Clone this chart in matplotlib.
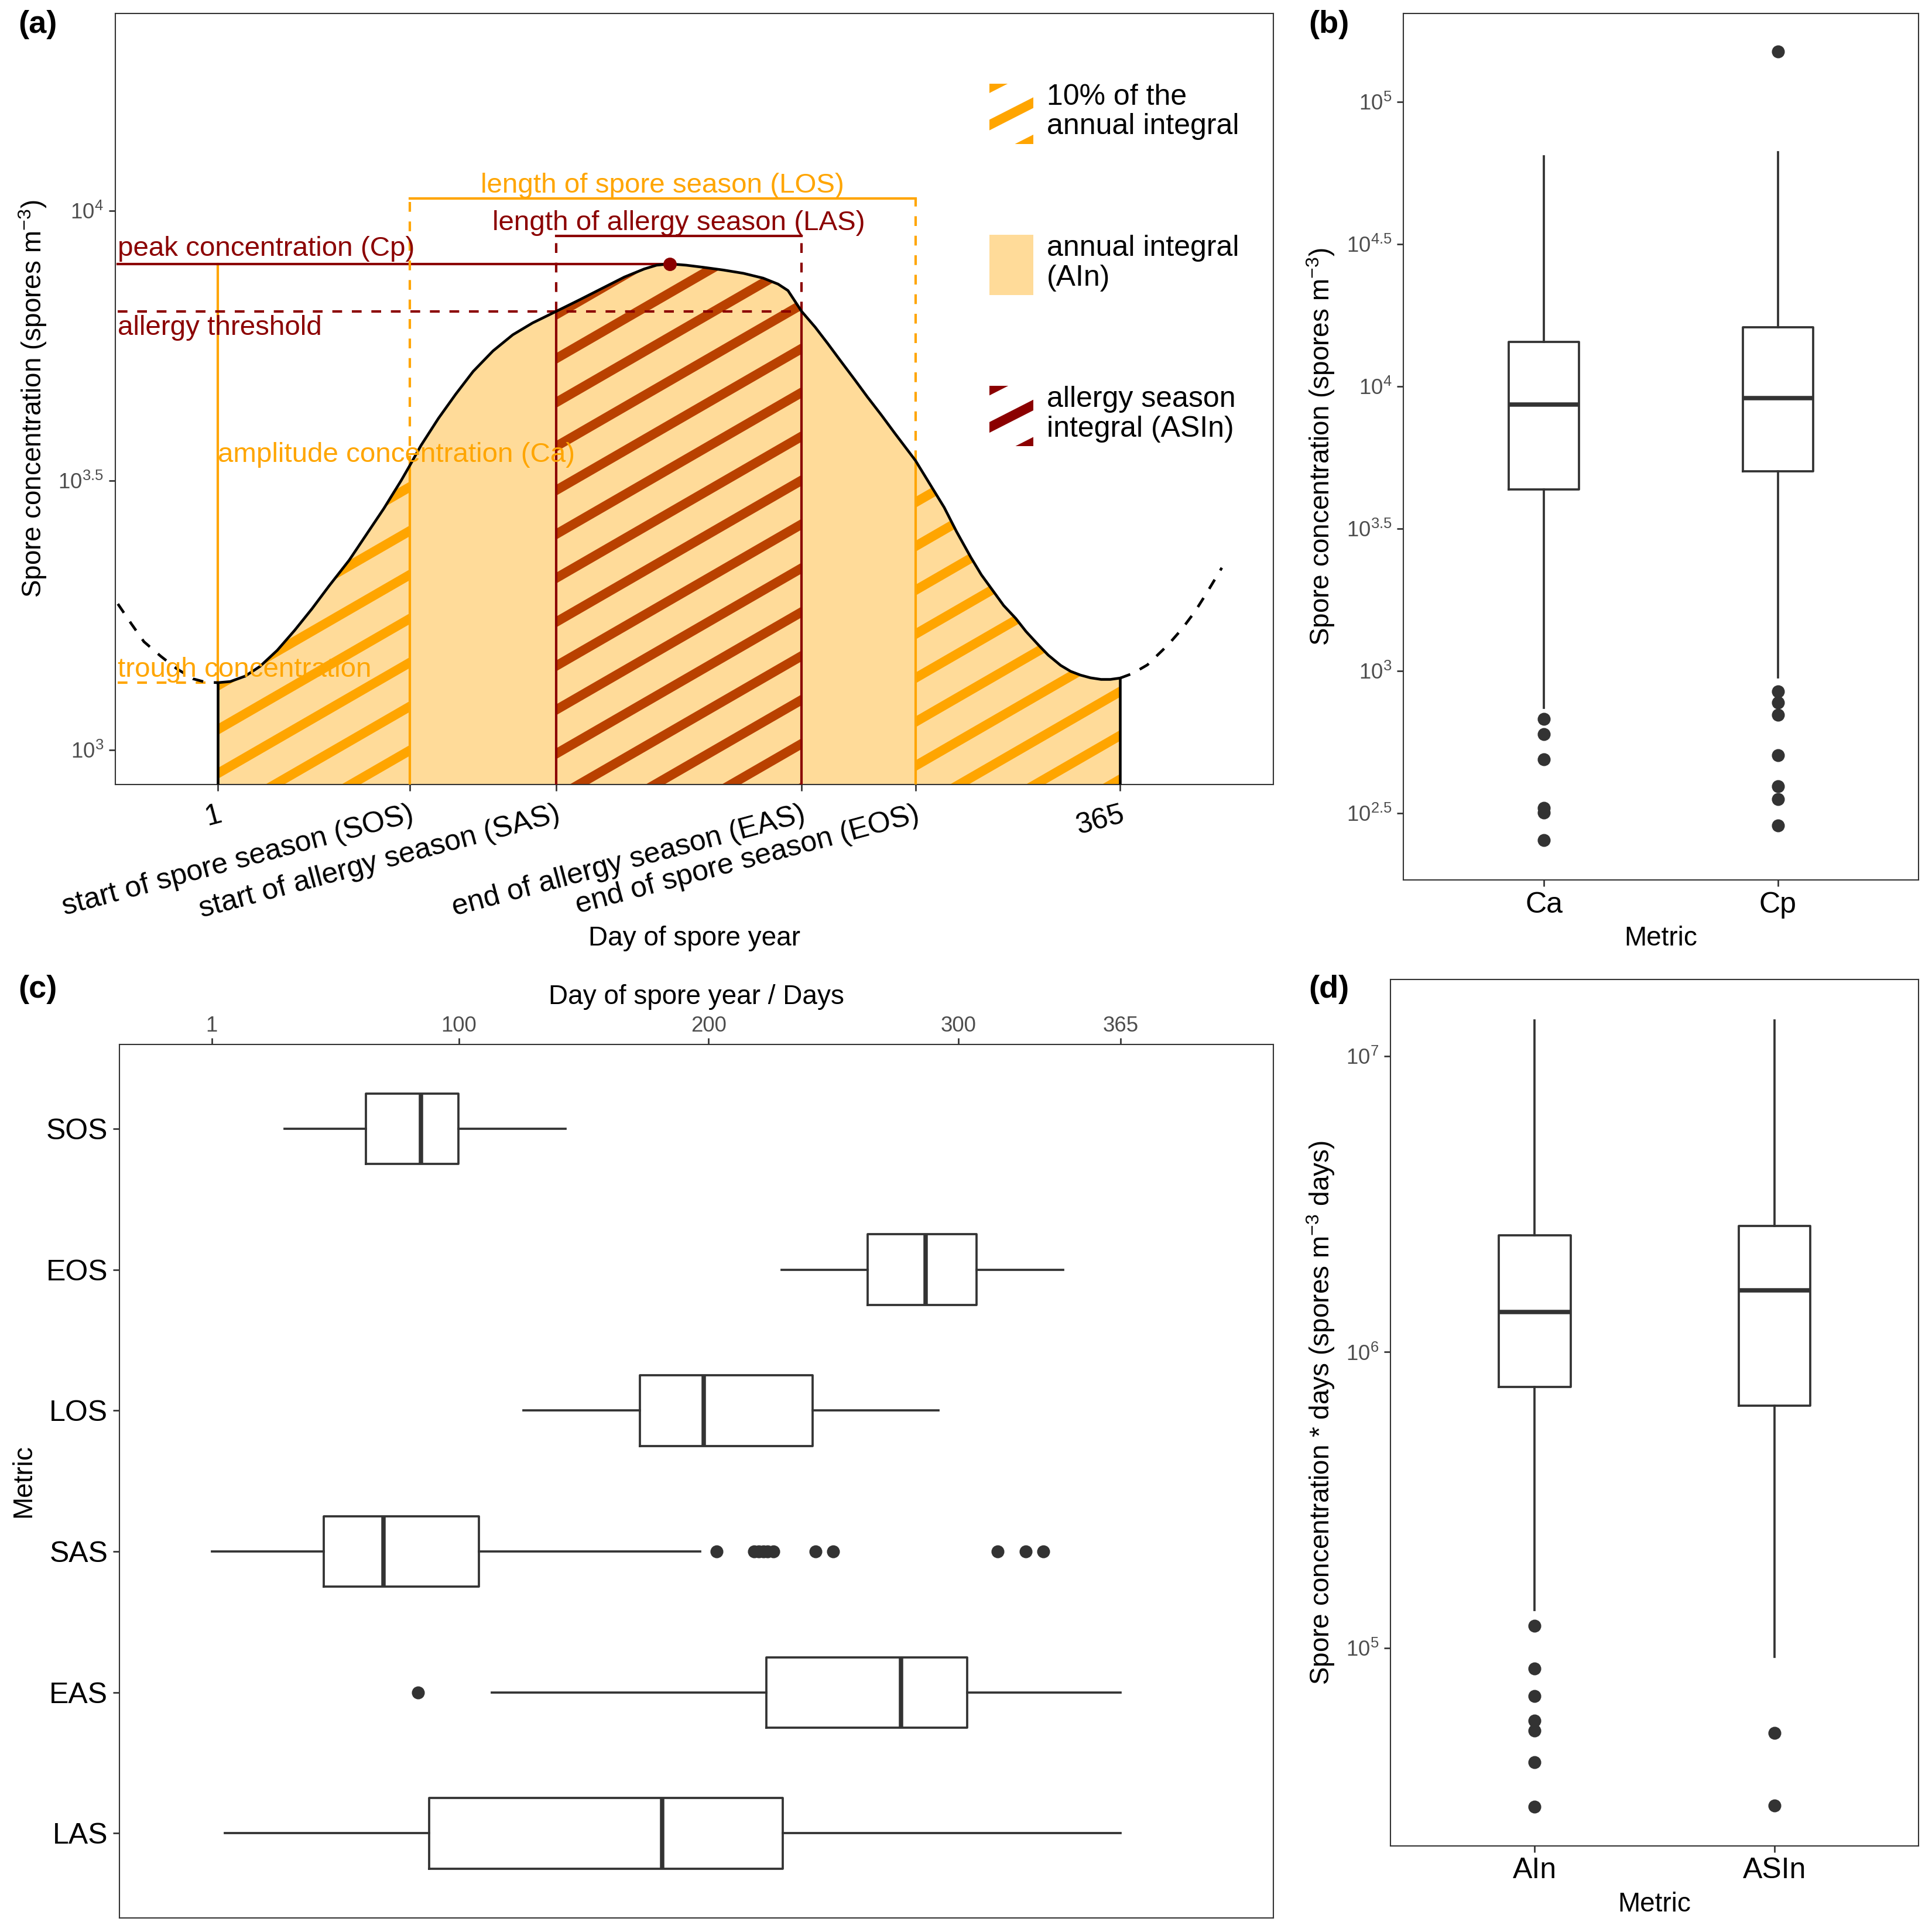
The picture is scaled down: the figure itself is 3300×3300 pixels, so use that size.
import numpy as np
import matplotlib
matplotlib.use("Agg")
import matplotlib.pyplot as plt
from matplotlib.collections import LineCollection
from matplotlib.patches import Patch, Rectangle
from matplotlib.legend_handler import HandlerBase
from matplotlib.ticker import NullLocator

plt.rcParams['font.family'] = ['Liberation Sans', 'DejaVu Sans']
plt.rcParams['mathtext.fontset'] = 'custom'
plt.rcParams['mathtext.rm'] = 'Liberation Sans'
plt.rcParams['mathtext.it'] = 'Liberation Sans:italic'
plt.rcParams['mathtext.bf'] = 'Liberation Sans:bold'

# ---- panel (a): schematic spore curve (day, log10 concentration) ----
curve_day = [-39.3, -34, -28.8, -22, -15.6, -8.9, -4, 1, 6, 12, 18, 25, 32, 39, 46, 54,
             61, 68, 75, 78.5, 83, 90, 97, 104, 112, 120, 128, 137.5, 147, 156, 165,
             173, 178, 183.4, 190, 197, 205, 213, 221, 227, 231, 236.5, 242, 247, 252,
             257.8, 263, 268.7, 274, 279.5, 282.4, 288, 294, 299, 304.8, 309, 313.9, 318,
             322.9, 327, 332, 336, 341, 345, 349, 353, 357.3, 361, 365, 370, 376, 384.3,
             390, 395.2, 400, 406]
curve_log10 = [3.271, 3.235, 3.201, 3.174, 3.151, 3.132, 3.126, 3.125, 3.127, 3.137,
               3.155, 3.185, 3.222, 3.262, 3.305, 3.352, 3.400, 3.448, 3.500, 3.528,
               3.565, 3.615, 3.660, 3.702, 3.740, 3.770, 3.792, 3.8134, 3.835, 3.856,
               3.877, 3.892, 3.899, 3.9015, 3.899, 3.895, 3.890, 3.884, 3.875, 3.864,
               3.852, 3.8134, 3.784, 3.754, 3.723, 3.6875, 3.655, 3.621, 3.588, 3.5546,
               3.537, 3.495, 3.450, 3.405, 3.357, 3.325, 3.294, 3.268, 3.244, 3.220,
               3.195, 3.176, 3.157, 3.146, 3.139, 3.134, 3.131, 3.131, 3.1335, 3.142,
               3.158, 3.195, 3.225, 3.257, 3.292, 3.338]
season_days = {'SOS': 78.5, 'SAS': 137.5, 'EAS': 236.5, 'EOS': 282.4}
peak_day, peak_log10 = 183.4, 3.9015
trough_log10 = 3.125
threshold_log10 = 3.8134
los_bracket_log10 = 4.0229
las_bracket_log10 = 3.9536
a_xticklabels = ['1', 'start of spore season (SOS)', 'start of allergy season (SAS)',
                 'end of allergy season (EAS)', 'end of spore season (EOS)', '365']
legend_labels = ['10% of the\nannual integral', 'annual integral\n(AIn)',
                 'allergy season\nintegral (ASIn)']

# ---- panel (b): Ca / Cp (log10 spores m-3) ----
b_metrics = ['Ca', 'Cp']
b_whislo = [2.8701, 2.9784]
b_q1 = [3.6385, 3.7013]
b_med = [3.9351, 3.9589]
b_q3 = [4.1558, 4.2078]
b_whishi = [4.8074, 4.8225]
b_fliers = [[2.8312, 2.7771, 2.6905, 2.5195, 2.5022, 2.4048],
            [5.1753, 2.9286, 2.8896, 2.8463, 2.7035, 2.5952, 2.5498, 2.4567]]

# ---- panel (c): timing metrics (days) ----
c_metrics = ['SOS', 'EOS', 'LOS', 'SAS', 'EAS', 'LAS']
c_whislo = [30.1, 229.2, 125.9, 1.0, 113.1, 6.2]
c_q1 = [62.7, 263.6, 172.4, 45.9, 223.2, 88.1]
c_med = [84.9, 286.9, 198.0, 69.7, 277.0, 181.3]
c_q3 = [99.7, 307.2, 241.6, 107.9, 303.6, 229.7]
c_whishi = [142.7, 341.9, 292.0, 196.7, 365.0, 365.0]
c_fliers = [[], [], [],
            [203.1, 218.3, 220.1, 221.9, 223.7, 226.0, 242.9, 249.9, 315.8, 326.9, 333.9],
            [83.7], []]

# ---- panel (d): AIn / ASIn (log10 spores m-3 days) ----
d_metrics = ['AIn', 'ASIn']
d_whislo = [5.1289, 4.9709]
d_q1 = [5.8815, 5.8191]
d_med = [6.1351, 6.2079]
d_q3 = [6.395, 6.4262]
d_whishi = [7.1206, 7.1206]
d_fliers = [[5.0748, 4.9314, 4.8378, 4.7547, 4.7214, 4.6154, 4.4636],
            [4.7131, 4.4678]]

ORANGE = '#FFA500'
DRED = '#8B0000'
STRIPE_DARK = '#B94100'
FILL = (1.0, 0.647, 0.0, 0.4)
G20 = '#333333'
G30 = '#4D4D4D'
DASH = (0, (4, 4))

fig = plt.figure(figsize=(11, 11), dpi=300)


def base_style(ax):
    for s in ax.spines.values():
        s.set_color(G20)
        s.set_linewidth(0.5)
    ax.tick_params(length=2.75, width=0.65, color=G20, labelcolor=G30, labelsize=8.8, pad=2)


def log_ticks(ax, exps):
    ax.set_yticks([10 ** e for e in exps])
    ax.set_yticklabels(['$10^{%s}$' % (('%g' % e)) for e in exps])
    ax.yaxis.set_minor_locator(NullLocator())


# ================= panel (a) =================
pos_a = [0.0596, 0.5939, 0.5995, 0.3992]
ax = fig.add_axes(pos_a)
base_style(ax)
ax.set_yscale('log')
ymin = 10 ** 2.936
ax.set_xlim(-40.4, 426.8)
ax.set_ylim(ymin, 10 ** 4.366)

cd = np.array(curve_day)
cl = np.array(curve_log10)


def conc_at(d):
    return 10 ** np.interp(d, cd, cl)


def seg(lo, hi):
    inside = (cd > lo) & (cd < hi)
    x = np.concatenate([[lo], cd[inside], [hi]])
    return x, conc_at(x)


SOS, SAS, EAS, EOS = (season_days[k] for k in ('SOS', 'SAS', 'EAS', 'EOS'))

xa, ya = seg(1, 365)
ax.fill_between(xa, ymin, ya, color=FILL, lw=0, zorder=1)

# stripe pattern (30 deg) clipped to each region
W_px = pos_a[2] * 3300
H_px = pos_a[3] * 3300
tan30 = np.tan(np.radians(30))
spacing = 75.0
cs = np.arange(10.0 - W_px * tan30 - 2 * spacing, H_px + 2 * spacing, spacing)
for lo, hi, col in [(1, SOS, ORANGE), (SAS, EAS, STRIPE_DARK), (EOS, 365, ORANGE)]:
    x, y = seg(lo, hi)
    poly = ax.fill_between(x, ymin, y, facecolor='none', lw=0)
    segs = [[(0, c / H_px), (1, (c + W_px * tan30) / H_px)] for c in cs]
    lc = LineCollection(segs, colors=col, linewidths=16 * 72 / 300, capstyle='butt',
                        transform=ax.transAxes, zorder=2)
    ax.add_collection(lc, autolim=False)
    lc.set_clip_path(poly.get_paths()[0], poly.get_transform())

# curve
x, y = seg(1, 365)
ax.plot(x, y, color='black', lw=1.1, zorder=6, solid_joinstyle='round')
x, y = seg(cd[0], 1)
ax.plot(x, y, color='black', lw=1.1, ls=DASH, zorder=6)
x, y = seg(365, cd[-1])
ax.plot(x, y, color='black', lw=1.1, ls=DASH, zorder=6)
ax.plot([1, 1], [ymin, conc_at(1)], color='black', lw=1.1, zorder=6)
ax.plot([365, 365], [ymin, conc_at(365)], color='black', lw=1.1, zorder=6)

x_left = cd[0]
peak = 10 ** peak_log10
trough = 10 ** trough_log10
thr = 10 ** threshold_log10
los_y = 10 ** los_bracket_log10
las_y = 10 ** las_bracket_log10
lw_ann = 1.0

ax.plot([x_left, 1], [trough, trough], color=ORANGE, lw=lw_ann, ls=DASH, zorder=5)
ax.plot([1, 1], [trough, peak], color=ORANGE, lw=lw_ann, zorder=5)
ax.plot([x_left, peak_day], [peak, peak], color=DRED, lw=lw_ann, zorder=5)
ax.plot([peak_day], [peak], 'o', color=DRED, ms=4.5, zorder=7)
ax.plot([x_left, EAS], [thr, thr], color=DRED, lw=lw_ann, ls=DASH, zorder=5)
for d in (SOS, EOS):
    ax.plot([d, d], [ymin, conc_at(d)], color=ORANGE, lw=lw_ann, zorder=5)
    ax.plot([d, d], [conc_at(d), los_y], color=ORANGE, lw=lw_ann, ls=DASH, zorder=5)
ax.plot([SOS, EOS], [los_y, los_y], color=ORANGE, lw=lw_ann, zorder=5)
for d in (SAS, EAS):
    ax.plot([d, d], [ymin, conc_at(d)], color=DRED, lw=lw_ann, zorder=5)
    ax.plot([d, d], [conc_at(d), las_y], color=DRED, lw=lw_ann, ls=DASH, zorder=5)
ax.plot([SAS, EAS], [las_y, las_y], color=DRED, lw=lw_ann, zorder=5)

fs_ann = 11.4
ax.text((SOS + EOS) / 2, los_y, 'length of spore season (LOS)', color=ORANGE, fontsize=fs_ann,
        ha='center', va='bottom', zorder=8)
ax.text((SAS + EAS) / 2, las_y, 'length of allergy season (LAS)', color=DRED, fontsize=fs_ann,
        ha='center', va='bottom', zorder=8)
ax.text(x_left, peak * 1.01, 'peak concentration (Cp)', color=DRED, fontsize=fs_ann,
        ha='left', va='bottom', zorder=8)
ax.text(x_left, thr * 0.985, 'allergy threshold', color=DRED, fontsize=fs_ann,
        ha='left', va='top', zorder=8)
ax.text(1, 10 ** ((peak_log10 + trough_log10) / 2 + 0.01), 'amplitude concentration (Ca)',
        color=ORANGE, fontsize=fs_ann, ha='left', va='bottom', zorder=8)
ax.text(x_left, trough * 1.0, 'trough concentration', color=ORANGE, fontsize=fs_ann,
        ha='left', va='bottom', zorder=8)

ax.set_xticks([1, SOS, SAS, EAS, EOS, 365])
ax.set_xticklabels(a_xticklabels, rotation=15, ha='right', va='top', rotation_mode='anchor',
                   fontsize=12, color='black')
ax.tick_params(axis='x', pad=4)
log_ticks(ax, [3, 3.5, 4])
ax.set_xlabel('Day of spore year', fontsize=11)
ax.xaxis.set_label_coords(0.5, -0.183)
ax.set_ylabel('Spore concentration (spores m$^{-3}$)', fontsize=11, labelpad=4)


class StripeKey(HandlerBase):
    def __init__(self, color):
        super().__init__()
        self.color = color

    def create_artists(self, legend, orig_handle, xdescent, ydescent, width, height,
                       fontsize, trans):
        x0, y0 = -xdescent, -ydescent
        clip = Rectangle((x0, y0), width, height, transform=trans)
        t = np.tan(np.radians(27))
        xc, yc = x0 + width / 2, y0 + height / 2
        sp = 15.3
        segs = []
        for k in (-1, 0, 1):
            c = yc + k * sp
            segs.append([(x0 - 5, c - (width / 2 + 5) * t), (x0 + width + 5, c + (width / 2 + 5) * t)])
        lc = LineCollection(segs, colors=self.color, linewidths=3.9, capstyle='butt',
                            transform=trans)
        lc.set_clip_path(clip)
        return [lc]


h1 = Patch(label=legend_labels[0])
h2 = Patch(facecolor=FILL, edgecolor='none', label=legend_labels[1])
h3 = Patch(label=legend_labels[2])
leg = ax.legend(handles=[h1, h2, h3], handler_map={h1: StripeKey(ORANGE), h3: StripeKey(DRED)},
                loc='upper left', bbox_to_anchor=(0.755, 0.909), frameon=False, fontsize=12,
                handlelength=1.5, handleheight=2.8, handletextpad=0.45, labelspacing=3.1,
                borderpad=0, borderaxespad=0)
for t in leg.get_texts():
    t.set_linespacing(1.12)


def box_stats(labels, lo, q1, med, q3, hi, fl, log=False):
    f = (lambda v: 10 ** np.asarray(v, dtype=float)) if log else (lambda v: np.asarray(v, dtype=float))
    out = []
    for i, lab in enumerate(labels):
        out.append(dict(label=lab, whislo=float(f(lo[i])), q1=float(f(q1[i])), med=float(f(med[i])),
                        q3=float(f(q3[i])), whishi=float(f(hi[i])), fliers=f(fl[i])))
    return out


bx_kw = dict(showcaps=False,
             boxprops=dict(color=G20, lw=0.9),
             whiskerprops=dict(color=G20, lw=0.9),
             medianprops=dict(color=G20, lw=1.8, solid_capstyle='butt'),
             flierprops=dict(marker='o', markerfacecolor=G20, markeredgecolor=G20,
                             markersize=4.3, linestyle='none'))

# ================= panel (b) =================
ax = fig.add_axes([0.7264, 0.5446, 0.2666, 0.4484])
base_style(ax)
ax.set_yscale('log')
ax.bxp(box_stats(b_metrics, b_whislo, b_q1, b_med, b_q3, b_whishi, b_fliers, log=True),
       positions=[1, 2], widths=0.3, **bx_kw)
ax.set_xlim(0.4, 2.6)
ax.set_ylim(10 ** 2.2662, 10 ** 5.3095)
log_ticks(ax, [2.5, 3, 3.5, 4, 4.5, 5])
ax.set_xticks([1, 2])
ax.set_xticklabels(b_metrics, fontsize=12, color='black')
ax.set_xlabel('Metric', fontsize=11, labelpad=3)
ax.set_ylabel('Spore concentration (spores m$^{-3}$)', fontsize=11, labelpad=4)

# ================= panel (c) =================
ax = fig.add_axes([0.06185, 0.00733, 0.5972, 0.4522])
base_style(ax)
ypos = list(range(len(c_metrics), 0, -1))
ax.bxp(box_stats(c_metrics, c_whislo, c_q1, c_med, c_q3, c_whishi, c_fliers),
       positions=ypos, widths=0.5, orientation='horizontal', **bx_kw)
ax.set_ylim(0.4, 6.6)
ax.set_xlim(-35.9, 426.1)
ax.xaxis.tick_top()
ax.xaxis.set_label_position('top')
ax.tick_params(axis='x', pad=0.4)
ax.set_xticks([1, 100, 200, 300, 365])
ax.set_xticklabels(['1', '100', '200', '300', '365'])
ax.set_yticks(ypos)
ax.set_yticklabels(c_metrics, fontsize=12, color='black')
ax.set_xlabel('Day of spore year / Days', fontsize=11, labelpad=5)
ax.set_ylabel('Metric', fontsize=11, labelpad=4)

# ================= panel (d) =================
ax = fig.add_axes([0.7198, 0.04464, 0.2732, 0.4483])
base_style(ax)
ax.set_yscale('log')
ax.bxp(box_stats(d_metrics, d_whislo, d_q1, d_med, d_q3, d_whishi, d_fliers, log=True),
       positions=[1, 2], widths=0.3, **bx_kw)
ax.set_xlim(0.4, 2.6)
ax.set_ylim(10 ** 4.3326, 10 ** 7.2578)
log_ticks(ax, [5, 6, 7])
ax.set_xticks([1, 2])
ax.set_xticklabels(d_metrics, fontsize=12, color='black')
ax.set_xlabel('Metric', fontsize=11, labelpad=3)
ax.set_ylabel('Spore concentration * days (spores m$^{-3}$ days)', fontsize=11, labelpad=4)

# panel tags
for tag, x, y in [('(a)', 0.0096, 0.9873), ('(b)', 0.6774, 0.9873),
                  ('(c)', 0.0096, 0.4879), ('(d)', 0.6774, 0.4879)]:
    fig.text(x, y, tag, fontsize=13, fontweight='bold', ha='left', va='center')

fig.savefig('out.png', dpi=300)
